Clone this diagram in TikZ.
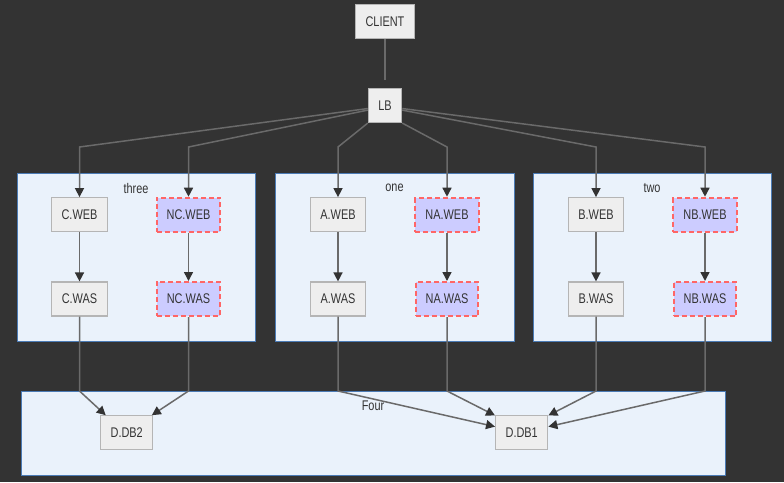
\documentclass[tikz,border=0pt]{standalone}
\usepackage{fontspec}
\setmainfont{Liberation Sans}[FakeStretch=0.78]
\usetikzlibrary{arrows.meta}
\definecolor{bgdark}{HTML}{333333}
\definecolor{nodefill}{HTML}{EEEEEE}
\definecolor{nodeline}{HTML}{B5B5B5}
\definecolor{newfill}{HTML}{CCCCFF}
\definecolor{newline}{HTML}{FF6666}
\definecolor{grpfill}{HTML}{EAF2FB}
\definecolor{grpline}{HTML}{4B7BB5}
\definecolor{linkline}{HTML}{6A6A6A}
\definecolor{txt}{HTML}{333333}
\begin{document}
\begin{tikzpicture}[x=1pt,y=-1pt,
		srv/.style={draw=nodeline,fill=nodefill,line width=1.2pt,minimum height=34pt,inner xsep=10pt,inner ysep=0pt,text=txt,font=\fontsize{14}{16}\selectfont},
		newsrv/.style={srv,draw=newline,fill=newfill,line width=2pt,dash pattern=on 5pt off 3pt},
		grp/.style={draw=grpline,fill=grpfill,line width=1pt},
		grplabel/.style={text=txt,font=\fontsize{14}{16}\selectfont},
		link/.style={draw=linkline,line width=1.5pt,-{Triangle[length=9pt,width=9pt,color=bgdark]}}]
			\useasboundingbox (0,0) rectangle (784,482);
			\fill[bgdark] (0,0) rectangle (784,482);
			\coordinate (top) at (0,147);
			\coordinate (low) at (0,391);
			% groups
			\draw[grp] (17,173) rectangle (255,341);
			\draw[grp] (275,173) rectangle (514,341);
			\draw[grp] (533,173) rectangle (771,341);
			\draw[grp] (21,391) rectangle (725,475);
			\node[grplabel] (lblthree) at (136,188) {three};
			\node[grplabel] (lblone) at (394.5,188) {one};
			\node[grplabel] (lbltwo) at (652,188) {two};
			\node[grplabel] (lblfour) at (373,406) {Four};
			% nodes
			\node[srv] (client) at (385,21.5) {CLIENT};
			\node[srv] (lb) at (385,105.5) {LB};
			\node[srv] (db2) at (126.7,432.8) {D.DB2};
			\node[srv] (db1) at (521.7,432.8) {D.DB1};
			\foreach \n/\t/\x in {c/C/79.5,a/A/338,b/B/596} {
				\node[srv] (\n web) at (\x,214.7) {\t.WEB};
				\node[srv] (\n was) at (\x,299) {\t.WAS};
				\node[newsrv] (n\n web) at (\x+109,214.7) {N\t.WEB};
				\node[newsrv] (n\n was) at (\x+109,299) {N\t.WAS};
				\draw[link] (\n web) -- (\n was);
				\draw[link] (n\n web) -- (n\n was);
			}
			% links
			\draw[draw=linkline,line width=1.5pt,shorten >=8pt] (client) -- (lb);
			\foreach \n/\a in {cweb/190,ncweb/195,aweb/south west,naweb/south east,bweb/345,nbweb/350}
			\draw[link] (lb.\a) -- (\n |- top) -- (\n);
			\foreach \n/\d in {cwas/db2.140,ncwas/db2.35,awas/db1.167,nawas/db1.147,bwas/db1.33,nbwas/db1.13}
			\draw[link] (\n) -- (\n |- low) -- (\d);
		\end{tikzpicture}
\end{document}
